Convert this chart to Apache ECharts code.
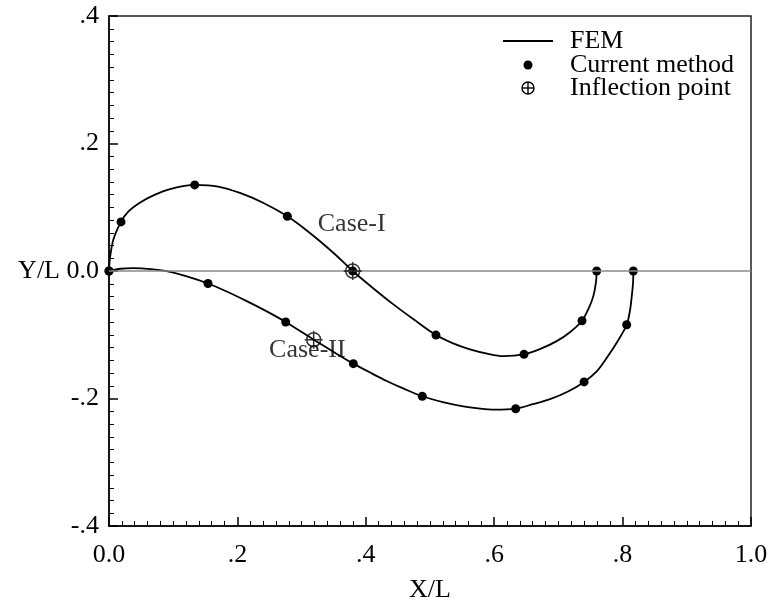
<!DOCTYPE html>
<html>
<head>
<meta charset="utf-8">
<script src="https://cdn.jsdelivr.net/npm/echarts@6/dist/echarts.min.js"></script>
<style>
  html, body { margin: 0; padding: 0; background: #fff; }
  #chart { width: 771px; height: 608px; }
</style>
</head>
<body>
<div id="chart"></div>
<script>
// FEM deflected shapes (X/L, Y/L)
const femCase1 = [
  [0, 0], [0.0015, 0.02], [0.0067, 0.049], [0.0187, 0.077], [0.03, 0.093],
  [0.048, 0.107], [0.07, 0.119], [0.095, 0.1285], [0.1335, 0.135], [0.17, 0.1325],
  [0.204, 0.1224], [0.24, 0.107], [0.2778, 0.0858], [0.305, 0.066], [0.3287, 0.0467],
  [0.355, 0.0235], [0.3796, 0], [0.41, -0.0258], [0.443, -0.0524], [0.476, -0.077],
  [0.5093, -0.1005], [0.536, -0.1135], [0.5623, -0.1229], [0.589, -0.1296], [0.614, -0.1335],
  [0.6464, -0.1307], [0.672, -0.1222], [0.6973, -0.110], [0.718, -0.096], [0.7368, -0.078],
  [0.7475, -0.058], [0.7544, -0.0394], [0.7585, -0.018], [0.7596, 0]
];
const femCase2 = [
  [0, 0], [0.018, 0.0035], [0.038, 0.0044], [0.065, 0.003], [0.0898, -0.0003],
  [0.12, -0.008], [0.1542, -0.0196], [0.185, -0.033], [0.2145, -0.0473], [0.245, -0.063],
  [0.2752, -0.080], [0.3188, -0.1077], [0.35, -0.127], [0.3806, -0.1453], [0.41, -0.161],
  [0.4325, -0.1725], [0.46, -0.185], [0.488, -0.1965], [0.52, -0.2055], [0.552, -0.2123],
  [0.575, -0.2155], [0.600, -0.2176], [0.6335, -0.216], [0.66, -0.209], [0.687, -0.201],
  [0.715, -0.189], [0.740, -0.174], [0.76, -0.157], [0.7765, -0.1345], [0.793, -0.109],
  [0.8064, -0.0843], [0.8115, -0.062], [0.8143, -0.0394], [0.8163, -0.018], [0.8167, 0]
];

// Current method results
const currentCase1 = [
  [0, 0], [0.0187, 0.077], [0.1335, 0.135], [0.2778, 0.0858], [0.3796, 0],
  [0.5093, -0.1005], [0.6464, -0.1307], [0.7368, -0.078], [0.7596, 0]
];
const currentCase2 = [
  [0, 0], [0.1542, -0.0196], [0.2752, -0.080], [0.3806, -0.1453], [0.488, -0.1965],
  [0.6335, -0.216], [0.740, -0.174], [0.8064, -0.0843], [0.8167, 0]
];

// Inflection points
const inflection = [[0.3796, 0], [0.3188, -0.1077]];

// Curve captions
const caseLabels = [
  { name: 'Case-I', value: [0.378, 0.074] },
  { name: 'Case-II', value: [0.309, -0.124] }
];

const xTicks = [0, 0.2, 0.4, 0.6, 0.8, 1.0];
const yTicks = [-0.4, -0.2, 0, 0.2, 0.4];
const legendNames = ['FEM', 'Current method', 'Inflection point'];

const FONT = "'Liberation Serif', 'Times New Roman', serif";
const FS = 26;
const CROSS_CIRCLE = 'path://M0,-9L0,9M-9,0L9,0M-7,0A7,7,0,1,0,7,0A7,7,0,1,0,-7,0Z';

function tickText(v) {
  const r = Math.round(v * 10) / 10;
  if (r === 0) return '0.0';
  if (Math.abs(r) === 1) return (r < 0 ? '-' : '') + '1.0';
  return (r < 0 ? '-' : '') + Math.abs(r).toFixed(1).replace(/^0/, '');
}

const chart = echarts.init(document.getElementById('chart'), null, { renderer: 'canvas' });

// Key box in the upper right: line, dot and crossed circle, then the names
const keyX = 528, keyRows = [41, 65, 88], keyTextX = 570;
const keyGraphics = [
  { type: 'line', shape: { x1: keyX - 25, y1: keyRows[0], x2: keyX + 25, y2: keyRows[0] },
    style: { stroke: '#000', lineWidth: 2 } },
  { type: 'circle', shape: { cx: keyX, cy: keyRows[1], r: 4.5 }, style: { fill: '#000' } },
  { type: 'circle', shape: { cx: keyX, cy: keyRows[2], r: 6 },
    style: { fill: 'none', stroke: '#000', lineWidth: 1.4 } },
  { type: 'line', shape: { x1: keyX - 6, y1: keyRows[2], x2: keyX + 6, y2: keyRows[2] },
    style: { stroke: '#000', lineWidth: 1.4 } },
  { type: 'line', shape: { x1: keyX, y1: keyRows[2] - 6, x2: keyX, y2: keyRows[2] + 6 },
    style: { stroke: '#000', lineWidth: 1.4 } }
].concat(legendNames.map((n, i) => ({
  type: 'text', x: keyTextX, y: keyRows[i],
  style: { text: n, font: FS + 'px ' + FONT, fill: '#000', verticalAlign: 'middle' }
})));

chart.setOption({
  backgroundColor: '#fff',
  animation: false,
  grid: {
    left: 109, top: 16, right: 20, bottom: 81,
    show: true, borderColor: '#222', borderWidth: 1.5, backgroundColor: 'transparent'
  },
  graphic: keyGraphics,
  xAxis: {
    type: 'value',
    min: xTicks[0], max: xTicks[xTicks.length - 1], interval: 0.2,
    name: 'X/L', nameLocation: 'middle', nameGap: 51,
    nameTextStyle: { fontFamily: FONT, fontSize: FS, color: '#000' },
    axisLine: { show: true, onZero: false, lineStyle: { color: '#000', width: 1.5 } },
    axisTick: { show: true, inside: true, length: 9, lineStyle: { color: '#000', width: 1.5 } },
    minorTick: { show: true, splitNumber: 10, length: 5, lineStyle: { color: '#000', width: 1 } },
    splitLine: { show: false },
    axisLabel: { formatter: tickText, fontFamily: FONT, fontSize: FS, color: '#000', margin: 16 }
  },
  yAxis: {
    type: 'value',
    min: yTicks[0], max: yTicks[yTicks.length - 1], interval: 0.2,
    axisLine: { show: true, onZero: false, lineStyle: { color: '#000', width: 1.5 } },
    axisTick: { show: true, inside: true, length: 9, lineStyle: { color: '#000', width: 1.5 } },
    minorTick: { show: true, splitNumber: 10, length: 5, lineStyle: { color: '#000', width: 1 } },
    splitLine: { show: false },
    axisLabel: {
      formatter: v => (Math.abs(v) < 1e-9 ? 'Y/L 0.0' : tickText(v)),
      fontFamily: FONT, fontSize: FS, color: '#000', margin: 10
    }
  },
  series: [
    {
      name: 'FEM', type: 'line', data: femCase1, smooth: 0.3, symbol: 'none',
      lineStyle: { color: '#000', width: 1.8 }, itemStyle: { color: '#000' }, z: 3,
      markLine: {
        silent: true, symbol: 'none', label: { show: false },
        lineStyle: { color: '#8a8a8a', width: 1.5, type: 'solid' },
        data: [{ yAxis: 0 }]
      }
    },
    {
      name: 'FEM', type: 'line', data: femCase2, smooth: 0.3, symbol: 'none',
      lineStyle: { color: '#000', width: 1.8 }, itemStyle: { color: '#000' }, z: 3
    },
    {
      name: 'Current method', type: 'scatter', data: currentCase1, symbol: 'circle', symbolSize: 9,
      itemStyle: { color: '#000', opacity: 1 }, z: 4
    },
    {
      name: 'Current method', type: 'scatter', data: currentCase2, symbol: 'circle', symbolSize: 9,
      itemStyle: { color: '#000', opacity: 1 }, z: 4
    },
    {
      name: 'Inflection point', type: 'scatter', data: inflection, symbol: CROSS_CIRCLE, symbolSize: 18,
      itemStyle: { color: 'transparent', borderColor: '#000', borderWidth: 1.5 }, z: 5
    },
    {
      name: 'captions', type: 'scatter', data: caseLabels, symbolSize: 0, silent: true,
      label: {
        show: true, position: 'inside', formatter: p => p.name,
        fontFamily: FONT, fontSize: FS, color: '#000'
      }, z: 6
    }
  ]
});
</script>
</body>
</html>
